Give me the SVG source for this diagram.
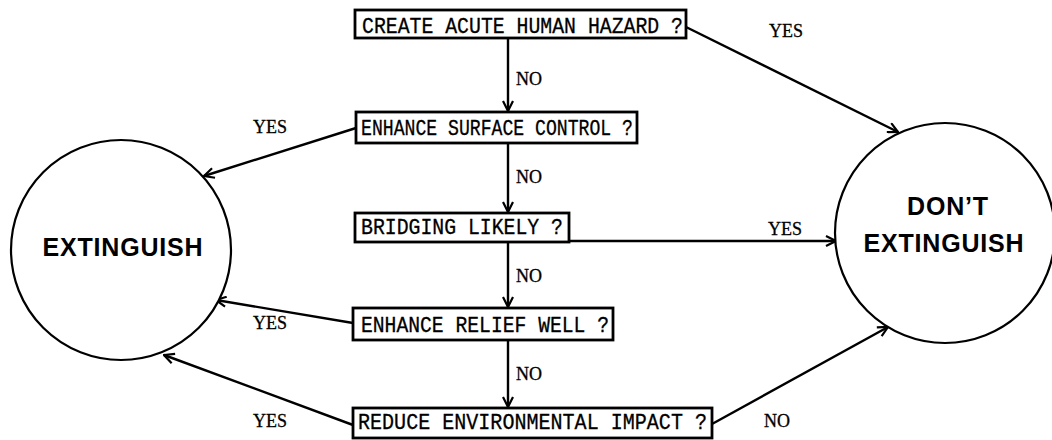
<svg xmlns="http://www.w3.org/2000/svg" width="1052" height="440" viewBox="0 0 1052 440">
<style>
.box{fill:#fff;stroke:#000;stroke-width:2.8}
.bt{font-family:"Liberation Mono","DejaVu Sans Mono",monospace;font-size:22px;fill:#000;stroke:#000;stroke-width:0.3}
.circ{fill:#fff;stroke:#000;stroke-width:2.2}
.ct{font-family:"Liberation Sans",Arial,sans-serif;font-weight:bold;font-size:25px;fill:#000;text-anchor:middle;letter-spacing:0.8px}
.lab{font-family:"Liberation Serif","Times New Roman",serif;font-size:18px;fill:#000;text-anchor:middle;stroke:#000;stroke-width:0.3}
.ln{fill:none;stroke:#000;stroke-width:2.4}
</style>
<defs>
<marker id="ah" viewBox="0 0 12 12" refX="11" refY="6" markerWidth="12" markerHeight="12" markerUnits="userSpaceOnUse" orient="auto">
<path d="M1,1 L11,6 L1,11" fill="none" stroke="#000" stroke-width="2.2"/>
</marker>
</defs>
<rect width="1052" height="440" fill="#fff"/>
<g id="connectors">
<line class="ln" x1="508" y1="38" x2="508" y2="111" marker-end="url(#ah)"/>
<line class="ln" x1="508" y1="143" x2="508" y2="212" marker-end="url(#ah)"/>
<line class="ln" x1="508" y1="242" x2="508" y2="307" marker-end="url(#ah)"/>
<line class="ln" x1="508" y1="340" x2="508" y2="407" marker-end="url(#ah)"/>
<line class="ln" x1="686" y1="27" x2="898" y2="132" marker-end="url(#ah)"/>
<line class="ln" x1="569" y1="241" x2="836" y2="241" marker-end="url(#ah)"/>
<line class="ln" x1="712" y1="424" x2="888" y2="327" marker-end="url(#ah)"/>
<line class="ln" x1="356" y1="128" x2="204" y2="176" marker-end="url(#ah)"/>
<line class="ln" x1="353" y1="323" x2="216" y2="300" marker-end="url(#ah)"/>
<line class="ln" x1="353" y1="425" x2="164" y2="355" marker-end="url(#ah)"/>
<text class="lab" x="786" y="37">YES</text>
<text class="lab" x="529" y="85">NO</text>
<text class="lab" x="270" y="133">YES</text>
<text class="lab" x="529" y="183">NO</text>
<text class="lab" x="785" y="235">YES</text>
<text class="lab" x="529" y="282">NO</text>
<text class="lab" x="270" y="329">YES</text>
<text class="lab" x="529" y="380">NO</text>
<text class="lab" x="270" y="427">YES</text>
<text class="lab" x="777" y="427">NO</text>
</g>
<g id="n1">
<rect class="box" x="355" y="10" width="331" height="28"/>
<text class="bt" x="362" y="33" textLength="321" lengthAdjust="spacingAndGlyphs">CREATE ACUTE HUMAN HAZARD ?</text>
</g>
<g id="n2">
<rect class="box" x="356" y="112" width="281" height="31"/>
<text class="bt" x="361" y="135" textLength="272" lengthAdjust="spacingAndGlyphs">ENHANCE SURFACE CONTROL ?</text>
</g>
<g id="n3">
<rect class="box" x="355" y="213" width="214" height="29"/>
<text class="bt" x="361" y="234" textLength="202" lengthAdjust="spacingAndGlyphs">BRIDGING LIKELY ?</text>
</g>
<g id="n4">
<rect class="box" x="353" y="308" width="260" height="32"/>
<text class="bt" x="361" y="332" textLength="248" lengthAdjust="spacingAndGlyphs">ENHANCE RELIEF WELL ?</text>
</g>
<g id="n5">
<rect class="box" x="353" y="408" width="359" height="30"/>
<text class="bt" x="358" y="429" textLength="349" lengthAdjust="spacingAndGlyphs">REDUCE ENVIRONMENTAL IMPACT ?</text>
</g>
<g id="extinguish">
<circle class="circ" cx="121" cy="250" r="110"/>
<text class="ct" x="123" y="256">EXTINGUISH</text>
</g>
<g id="dont">
<circle class="circ" cx="945" cy="233" r="110"/>
<text class="ct" x="948" y="215">DON’T</text>
<text class="ct" x="944" y="252">EXTINGUISH</text>
</g>
</svg>
